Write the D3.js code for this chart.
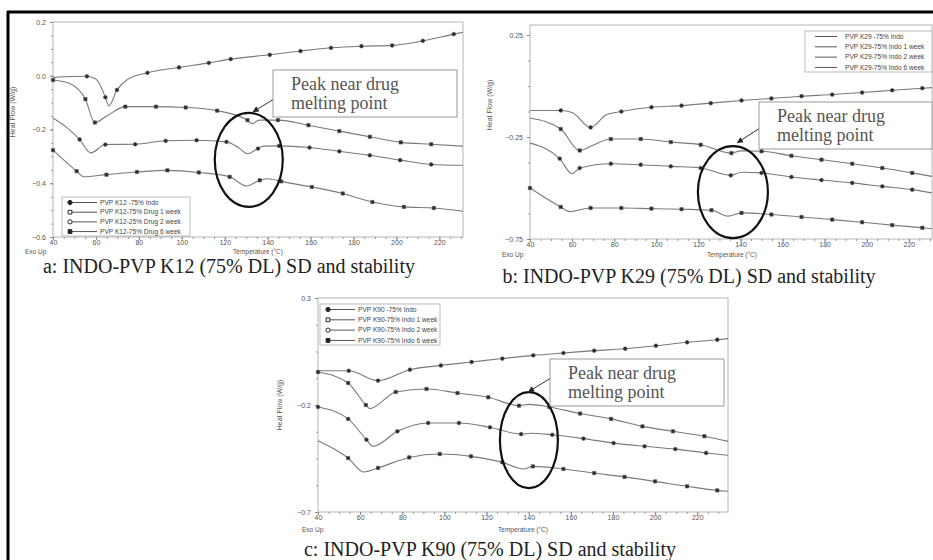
<!DOCTYPE html>
<html>
<head>
<meta charset="utf-8">
<style>
  body { margin: 0; background: #fff; }
  svg { display: block; }
</style>
</head>
<body>
<div id="chart"></div>
<script src="https://cdn.jsdelivr.net/npm/d3@7"></script>
<script>
// ---- data: [temperature °C, heat flow W/g, marker?] ----
var xTicks = [40, 60, 80, 100, 120, 140, 160, 180, 200, 220];

var k12Labels = ["PVP K12 -75% Indo", "PVP K12-75% Drug 1 week", "PVP K12-25% Drug 2 week", "PVP K12-75% Drug 6 week"];
var k12Ticks = [0.2, 0.0, -0.2, -0.4, -0.6];
var k12Indo = [[40,-0.006,0],[55.8,-0.002,1],[60,-0.012,0],[64.4,-0.08,1],[66,-0.112,0],[69.8,-0.053,1],[75,-0.012,0],[84,0.011,1],[98.7,0.031,1],[112.6,0.048,1],[122.8,0.062,1],[141,0.078,1],[155.3,0.092,1],[169.5,0.104,1],[183.7,0.11,1],[198,0.113,1],[212.3,0.13,1],[226.7,0.155,1],[231,0.162,0]];
var k12Week1 = [[40,-0.016,1],[48,-0.03,0],[55.1,-0.087,1],[59.5,-0.174,1],[65,-0.15,0],[73.7,-0.115,1],[88,-0.115,1],[101.8,-0.118,1],[116.5,-0.13,1],[130.6,-0.165,1],[132.7,-0.178,0],[136,-0.165,0],[144.8,-0.165,1],[159,-0.184,1],[173.4,-0.206,1],[187.6,-0.227,1],[202,-0.248,1],[216.2,-0.255,1],[231,-0.262,0]];
var k12Week2 = [[40,-0.157,0],[46,-0.19,0],[52.4,-0.237,1],[57.5,-0.287,0],[64.4,-0.256,1],[78.3,-0.255,1],[92.5,-0.242,1],[106.9,-0.24,1],[120.8,-0.246,1],[126,-0.265,0],[130.6,-0.29,0],[135.5,-0.271,1],[138,-0.262,0],[145.3,-0.261,1],[159.5,-0.267,1],[173.4,-0.281,1],[187.6,-0.296,1],[201.7,-0.314,1],[216.2,-0.33,1],[231,-0.333,0]];
var k12Week6 = [[40,-0.277,1],[51,-0.355,1],[54.4,-0.376,0],[64.9,-0.368,1],[79.1,-0.358,1],[93.3,-0.352,1],[107.9,-0.36,1],[122.3,-0.376,1],[130.1,-0.41,0],[136.3,-0.389,1],[140,-0.383,0],[146.3,-0.393,1],[160.6,-0.414,1],[175,-0.438,1],[188.8,-0.47,1],[203.5,-0.488,1],[217.4,-0.492,1],[231,-0.504,0]];

var k29Labels = ["PVP K29 -75% Indo", "PVP K29-75% Indo 1 week", "PVP K29-75% Indo 2 week", "PVP K29-75% Indo 6 week"];
var k29Ticks = [0.25, -0.25, -0.75];
var k29Indo = [[40,-0.12,0],[54.6,-0.12,1],[60,-0.13,0],[68.8,-0.203,1],[76.3,-0.141,0],[83.4,-0.125,1],[97.7,-0.104,1],[112,-0.096,1],[125.9,-0.084,1],[140.5,-0.071,1],[154.7,-0.061,1],[169,-0.05,1],[183.6,-0.042,1],[197.8,-0.032,1],[212.1,-0.021,1],[226.4,-0.011,1],[231,-0.008,0]];
var k29Week1 = [[40,-0.157,0],[54.6,-0.211,1],[63.6,-0.316,1],[70,-0.29,0],[78.4,-0.26,1],[92.6,-0.26,1],[106.9,-0.275,1],[121.1,-0.288,1],[135.7,-0.329,1],[140,-0.318,0],[150,-0.32,1],[164.2,-0.342,1],[178.5,-0.361,1],[193.1,-0.381,1],[207.4,-0.402,1],[221.6,-0.426,1],[231,-0.443,0]];
var k29Week2 = [[40,-0.28,0],[54.1,-0.356,1],[60,-0.43,0],[63.6,-0.402,1],[78.4,-0.381,1],[92.6,-0.386,1],[106.9,-0.394,1],[121.1,-0.402,1],[135.4,-0.438,1],[140.5,-0.423,0],[150,-0.426,1],[164.2,-0.446,1],[178.5,-0.461,1],[193.1,-0.475,1],[207.4,-0.492,1],[221.6,-0.508,1],[231,-0.524,0]];
var k29Week6 = [[40,-0.5,1],[54.6,-0.593,1],[58.9,-0.616,0],[68.8,-0.598,1],[83.4,-0.598,1],[97.7,-0.601,1],[112,-0.604,1],[126.2,-0.609,1],[134.1,-0.638,0],[140.5,-0.622,1],[154.7,-0.63,1],[169,-0.642,1],[183.6,-0.655,1],[197.8,-0.668,1],[212.1,-0.682,1],[226.4,-0.695,1],[231,-0.7,0]];

var k90Labels = ["PVP K90 -75% Indo", "PVP K90-75% Indo 1 week", "PVP K90-75% Indo 2 week", "PVP K90-75% Indo 6 week"];
var k90Ticks = [0.3, -0.2, -0.7];
var k90Indo = [[40,-0.04,0],[54.6,-0.04,1],[68.5,-0.086,1],[83.6,-0.035,1],[98.3,-0.015,1],[112.9,0.001,1],[127.5,0.017,1],[142.2,0.032,1],[156.5,0.043,1],[171.1,0.054,1],[185.8,0.063,1],[200.4,0.077,1],[215.2,0.093,1],[229.5,0.105,1],[234.6,0.11,0]];
var k90Week1 = [[40,-0.046,1],[54.3,-0.097,1],[62.7,-0.2,1],[64.6,-0.217,0],[76.9,-0.139,1],[91.5,-0.125,1],[106.2,-0.144,1],[120.8,-0.164,1],[135.4,-0.203,1],[140,-0.197,0],[149.8,-0.209,1],[164.4,-0.24,1],[179.1,-0.265,1],[194,-0.3,1],[208.5,-0.323,1],[223.4,-0.346,1],[234.6,-0.37,0]];
var k90Week2 = [[40,-0.209,1],[54.3,-0.265,1],[63,-0.362,1],[66.1,-0.393,0],[77.7,-0.323,1],[92.3,-0.284,1],[106.9,-0.284,1],[121.6,-0.304,1],[136.4,-0.336,1],[141,-0.332,0],[151.2,-0.339,1],[166,-0.357,1],[180.3,-0.378,1],[195,-0.393,1],[209.6,-0.406,1],[224.2,-0.424,1],[234.6,-0.435,0]];
var k90Week6 = [[40,-0.367,0],[54.3,-0.448,1],[61.7,-0.513,0],[68.5,-0.494,1],[83.3,-0.445,1],[97.8,-0.429,1],[112.6,-0.44,1],[127.5,-0.468,1],[137.5,-0.499,0],[142,-0.487,1],[156.5,-0.499,1],[171.1,-0.518,1],[185.5,-0.536,1],[200,-0.557,1],[215.2,-0.58,1],[229.5,-0.599,1],[234.6,-0.603,0]];

var captions = ["a: INDO-PVP K12 (75% DL) SD and stability", "b: INDO-PVP K29 (75% DL) SD and stability", "c: INDO-PVP K90 (75% DL) SD and stability"];
var noteText = ["Peak near drug", "melting point"];

// ---- layout ----
var W = 933, H = 560;
var sans = "Liberation Sans, Arial, sans-serif";
var serif = "Liberation Serif, Times New Roman, serif";
var svg = d3.select("#chart").append("svg").attr("width", W).attr("height", H);
svg.append("rect").attr("width", W).attr("height", H).attr("fill", "#fff");

// outer frame (top and left only visible)
svg.append("line").attr("x1", 7).attr("x2", W).attr("y1", 12).attr("y2", 12).attr("stroke", "#000").attr("stroke-width", 3);
svg.append("line").attr("x1", 8).attr("x2", 8).attr("y1", 11).attr("y2", H).attr("stroke", "#000").attr("stroke-width", 3);

var symbols = [d3.symbolCircle, d3.symbolSquare, d3.symbolCircle, d3.symbolSquare];

var panels = [
  { series: [k12Indo, k12Week1, k12Week2, k12Week6], labels: k12Labels, yTicks: k12Ticks,
    x0: 53, x1: 463, y0: 22, y1: 237, xDom: [40, 231], yDom: [-0.6, 0.2], fmt: d3.format(".1f"),
    legend: { x: 62, y: 197, w: 128, h: 39, markers: true },
    yLab: { x: 15, y: 112 }, exo: { x: 25, y: 253.5 }, temp: { x: 258, y: 253.5 },
    cap: { x: 229, y: 273, text: captions[0] },
    note: { ex: 131.2, ey: -0.313, rx: 34, ry: 47, tx: 133, ty: -0.135, bx: 273, by: 70, bw: 184, bh: 47, ax: 284, ay: 93 } },
  { series: [k29Indo, k29Week1, k29Week2, k29Week6], labels: k29Labels, yTicks: k29Ticks,
    x0: 530, x1: 932, y0: 25, y1: 239, xDom: [40, 231], yDom: [-0.75, 0.299], fmt: d3.format(".2f"),
    legend: { x: 805, y: 31, w: 127, h: 41, markers: false },
    yLab: { x: 492, y: 105 }, exo: { x: 502, y: 257 }, temp: { x: 732, y: 257 },
    cap: { x: 689, y: 283, text: captions[1] },
    note: { ex: 136.4, ey: -0.52, rx: 35, ry: 46, tx: 138.3, ty: -0.279, bx: 759, by: 102, bw: 173, bh: 47, ax: 760, ay: 128 } },
  { series: [k90Indo, k90Week1, k90Week2, k90Week6], labels: k90Labels, yTicks: k90Ticks,
    x0: 318, x1: 728, y0: 298, y1: 512, xDom: [40, 234.6], yDom: [-0.7, 0.3], fmt: d3.format(".1f"),
    legend: { x: 320, y: 304, w: 120, h: 41, markers: true },
    yLab: { x: 282, y: 405 }, exo: { x: 302, y: 532 }, temp: { x: 523, y: 532 },
    cap: { x: 490, y: 556, text: captions[2] },
    note: { ex: 140.1, ey: -0.364, rx: 29, ry: 48, tx: 139.7, ty: -0.139, bx: 550, by: 359, bw: 174, bh: 47, ax: 551, ay: 378 } }
];

panels.forEach(drawPanel);

function drawPanel(p) {
  var x = d3.scaleLinear().domain(p.xDom).range([p.x0, p.x1]);
  var y = d3.scaleLinear().domain(p.yDom).range([p.y1, p.y0]);
  var g = svg.append("g");

  // plot frame
  g.append("rect").attr("x", p.x0).attr("y", p.y0).attr("width", p.x1 - p.x0).attr("height", p.y1 - p.y0)
    .attr("fill", "none").attr("stroke", "#b5b5b5").attr("stroke-width", 1);

  // x axis: minor + major ticks
  var minorX = d3.range(40, p.xDom[1], 5);
  g.append("g").attr("transform", "translate(0," + p.y1 + ")")
    .call(d3.axisBottom(x).tickValues(minorX).tickSize(2).tickFormat(""))
    .call(function(s) { s.select(".domain").remove(); s.selectAll("line").attr("stroke", "#999"); });
  var ax = g.append("g").attr("transform", "translate(0," + p.y1 + ")")
    .call(d3.axisBottom(x).tickValues(xTicks).tickSize(3).tickPadding(0).tickFormat(d3.format("d")));
  ax.select(".domain").remove();
  ax.selectAll("line").attr("stroke", "#888");
  ax.selectAll("text").attr("font-family", sans).attr("font-size", 7).attr("fill", "#555");

  // y axis
  var yMinor = d3.range(p.yDom[0], p.yDom[1] + 1e-6, (p.yTicks[0] - p.yTicks[1]) / 4);
  g.append("g").attr("transform", "translate(" + p.x0 + ",0)")
    .call(d3.axisLeft(y).tickValues(yMinor).tickSize(2).tickFormat(""))
    .call(function(s) { s.select(".domain").remove(); s.selectAll("line").attr("stroke", "#999"); });
  var ay = g.append("g").attr("transform", "translate(" + p.x0 + ",0)")
    .call(d3.axisLeft(y).tickValues(p.yTicks).tickSize(3).tickPadding(4).tickFormat(p.fmt));
  ay.select(".domain").remove();
  ay.selectAll("line").attr("stroke", "#888");
  ay.selectAll("text").attr("font-family", sans).attr("font-size", 7).attr("fill", "#555");

  // axis titles
  g.append("text").attr("transform", "translate(" + p.yLab.x + "," + p.yLab.y + ") rotate(-90)")
    .attr("text-anchor", "middle").attr("font-family", sans)
    .attr("font-size", 7).attr("fill", "#555").text("Heat Flow (W/g)");
  g.append("text").attr("x", p.exo.x).attr("y", p.exo.y).attr("font-family", sans)
    .attr("font-size", 6.5).attr("fill", "#555").text("Exo Up");
  g.append("text").attr("x", p.temp.x).attr("y", p.temp.y).attr("text-anchor", "middle")
    .attr("font-family", sans).attr("font-size", 6.5).attr("fill", "#555")
    .text("Temperature (°C)");

  // curves
  var line = d3.line().curve(d3.curveMonotoneX)
    .x(function(d) { return x(d[0]); })
    .y(function(d) { return y(d[1]); });
  p.series.forEach(function(s, i) {
    g.append("path").datum(s).attr("d", line)
      .attr("fill", "none").attr("stroke", "#7a7a7a").attr("stroke-width", 1.1);
    g.selectAll(null).data(s.filter(function(d) { return d[2]; })).enter()
      .append("path")
      .attr("transform", function(d) { return "translate(" + x(d[0]) + "," + y(d[1]) + ")"; })
      .attr("d", d3.symbol().type(symbols[i]).size(11))
      .attr("fill", "#2b2b2b").attr("stroke", "#555").attr("stroke-width", 0.6);
  });

  // legend
  var L = p.legend;
  g.append("rect").attr("x", L.x).attr("y", L.y).attr("width", L.w).attr("height", L.h)
    .attr("fill", "#fff").attr("stroke", "#aaa").attr("stroke-width", 0.8);
  p.labels.forEach(function(t, i) {
    var ly = L.y + 5.5 + i * (L.h - 8) / 3.2;
    var lx0 = L.markers ? L.x + 7 : L.x + 10;
    g.append("line").attr("x1", lx0).attr("x2", lx0 + (L.markers ? 28 : 22)).attr("y1", ly).attr("y2", ly)
      .attr("stroke", "#555").attr("stroke-width", 1);
    if (L.markers) {
      g.append("path").attr("transform", "translate(" + (lx0 + 1) + "," + ly + ")")
        .attr("d", d3.symbol().type(symbols[i]).size(14))
        .attr("fill", i === 1 || i === 2 ? "#fff" : "#222").attr("stroke", "#222").attr("stroke-width", 1);
    }
    g.append("text").attr("x", lx0 + (L.markers ? 31 : 30)).attr("y", ly + 2.3)
      .attr("font-family", sans).attr("font-size", 6.6).attr("fill", "#444").text(t);
  });

  // annotation: ellipse, arrow, box
  var n = p.note;
  g.append("ellipse").attr("cx", x(n.ex)).attr("cy", y(n.ey)).attr("rx", n.rx).attr("ry", n.ry)
    .attr("fill", "none").attr("stroke", "#111").attr("stroke-width", 2.2);
  var tx = x(n.tx), ty = y(n.ty);
  g.append("line").attr("x1", n.ax).attr("y1", n.ay).attr("x2", tx).attr("y2", ty)
    .attr("stroke", "#333").attr("stroke-width", 1);
  var ang = Math.atan2(ty - n.ay, tx - n.ax);
  var hl = 6, hw = 3;
  var pts = [[tx, ty],
    [tx - hl * Math.cos(ang) + hw * Math.sin(ang), ty - hl * Math.sin(ang) - hw * Math.cos(ang)],
    [tx - hl * Math.cos(ang) - hw * Math.sin(ang), ty - hl * Math.sin(ang) + hw * Math.cos(ang)]];
  g.append("polygon").attr("points", pts.map(function(q) { return q.join(","); }).join(" ")).attr("fill", "#222");
  g.append("rect").attr("x", n.bx).attr("y", n.by).attr("width", n.bw).attr("height", n.bh)
    .attr("fill", "#fff").attr("stroke", "#999").attr("stroke-width", 1);
  noteText.forEach(function(t, i) {
    g.append("text").attr("x", n.bx + 18).attr("y", n.by + 20 + i * 19)
      .attr("font-family", serif).attr("font-size", 18)
      .attr("fill", "#555").text(t);
  });

  // caption
  svg.append("text").attr("x", p.cap.x).attr("y", p.cap.y).attr("text-anchor", "middle")
    .attr("font-family", serif).attr("font-size", 20)
    .attr("fill", "#222").text(p.cap.text);
}
</script>
</body>
</html>
